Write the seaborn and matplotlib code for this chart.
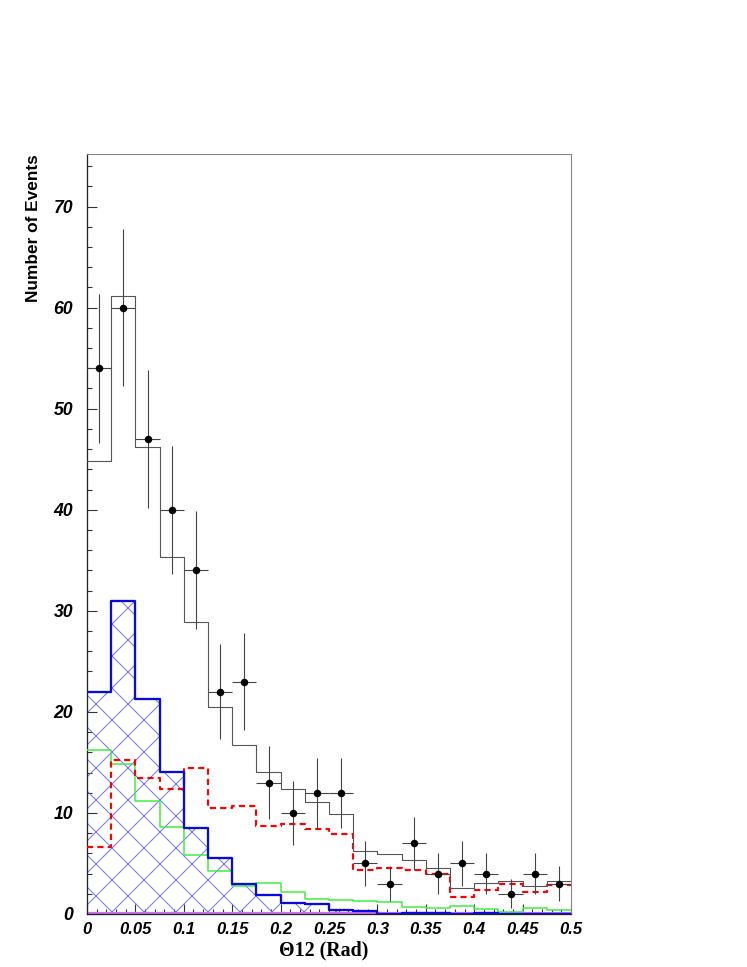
import numpy as np
import pandas as pd
import matplotlib
matplotlib.use("Agg")
import matplotlib.pyplot as plt
from matplotlib.ticker import MultipleLocator
import seaborn as sns

# ---------------- data ----------------
bin_width = 0.025
bin_edges = [round(i * bin_width, 4) for i in range(21)]
bin_centers = [round(e + bin_width / 2, 5) for e in bin_edges[:-1]]

data_counts = [54, 60, 47, 40, 34, 22, 23, 13, 10, 12, 12, 5, 3, 7, 4, 5, 4, 2, 4, 3]
total_mc = [44.8, 61.1, 46.2, 35.3, 28.9, 20.5, 16.7, 14.1, 12.4, 11.1,
            9.9, 6.2, 5.9, 5.3, 4.6, 2.6, 3.1, 3.3, 2.8, 3.3]
blue_mc = [22.0, 31.0, 21.3, 14.1, 8.5, 5.5, 3.0, 1.9, 1.1, 1.0,
           0.4, 0.3, 0.0, 0.1, 0.1, 0.0, 0.1, 0.0, 0.0, 0.0]
green_mc = [16.2, 14.8, 11.2, 8.6, 5.8, 4.25, 2.8, 3.1, 2.2, 1.45,
            1.4, 1.3, 1.2, 0.7, 0.6, 0.8, 0.45, 0.2, 0.55, 0.35]
red_mc = [6.6, 15.2, 13.45, 12.4, 14.4, 10.45, 10.7, 8.7, 8.9, 8.45,
          7.9, 4.4, 4.55, 4.4, 3.95, 1.65, 2.4, 3.0, 2.15, 2.9]
magenta_mc = [0.05, 0.05, 0.05, 0.05, 0.05, 0.05, 0.05, 0.05, 0.05, 0.05,
              0.05, 0.05, 0.1, 0.1, 0.05, 0.05, 0.05, 0.05, 0.05, 0.05]

x_ticks = [0, 0.05, 0.1, 0.15, 0.2, 0.25, 0.3, 0.35, 0.4, 0.45, 0.5]
x_tick_labels = ["0", "0.05", "0.1", "0.15", "0.2", "0.25", "0.3", "0.35", "0.4", "0.45", "0.5"]
y_ticks = [0, 10, 20, 30, 40, 50, 60, 70]
y_tick_labels = ["0", "10", "20", "30", "40", "50", "60", "70"]

df = pd.DataFrame({
    "x": bin_centers, "data": data_counts, "total": total_mc, "blue": blue_mc,
    "green": green_mc, "red": red_mc, "magenta": magenta_mc,
})
df["err"] = np.sqrt(df["data"])

# ---------------- figure ----------------
sns.set_style("white")
DPI = 96


def px(v):
    """pixel size -> points"""
    return v * 72.0 / DPI


plt.rcParams["hatch.linewidth"] = px(1.0)
fig = plt.figure(figsize=(747 / DPI, 967 / DPI), dpi=DPI)
ax = fig.add_axes([87 / 747, 1 - 914 / 967, 484 / 747, 760 / 967])

# hatched fill of the blue component
n_before = len(ax.collections)
sns.histplot(data=df, x="x", weights="blue", bins=bin_edges, element="step",
             fill=True, color="#7272ff", hatch="x", linewidth=0, alpha=1,
             ax=ax, zorder=1)
for coll in ax.collections[n_before:]:
    coll.set_facecolor("none")
    coll.set_edgecolor("#7272ff")
    coll.set_linewidth(0)

common = dict(data=df, x="x", bins=bin_edges, element="step", fill=False, ax=ax)
sns.histplot(weights="magenta", color="#d070f0", linewidth=px(2.2), zorder=2, **common)
sns.histplot(weights="green", color="#3cf03c", linewidth=px(1.5), zorder=3, **common)
sns.histplot(weights="red", color="#ff0000", linewidth=px(2.2), linestyle=(0, (2.8, 1.9)),
             zorder=4, **common)
sns.histplot(weights="blue", color="#0a0adc", linewidth=px(2.3), zorder=5, **common)
sns.histplot(weights="total", color="#555555", linewidth=px(1.1), zorder=6, **common)

# data points with errors
ax.errorbar(df["x"], df["data"], xerr=bin_width / 2, yerr=df["err"], fmt="none",
            ecolor="#444444", elinewidth=px(1.1), capsize=0, zorder=7)
sns.scatterplot(data=df, x="x", y="data", color="black", s=px(7.5) ** 2,
                edgecolor="black", linewidth=0, ax=ax, zorder=8)

# ---------------- axes styling ----------------
ax.set_xlim(0, 0.5)
ax.set_ylim(0, 75.2)
ax.set_xticks(x_ticks, x_tick_labels)
ax.set_yticks(y_ticks, y_tick_labels)
ax.xaxis.set_minor_locator(MultipleLocator(0.01))
ax.yaxis.set_minor_locator(MultipleLocator(2))
ax.tick_params(which="both", direction="in", top=False, right=False,
               bottom=True, left=True, color="#333333", width=px(1.1))
ax.tick_params(which="major", length=px(10))
ax.tick_params(which="minor", length=px(5))
ax.tick_params(axis="x", which="major", pad=px(8))
ax.tick_params(axis="y", which="major", pad=px(14))

for lab in ax.get_xticklabels():
    lab.set_fontfamily("Liberation Sans")
    lab.set_fontweight("bold")
    lab.set_fontstyle("italic")
    lab.set_fontsize(px(16.6))
    lab.set_color("black")
for lab in ax.get_yticklabels():
    lab.set_fontfamily("Liberation Sans")
    lab.set_fontweight("bold")
    lab.set_fontstyle("italic")
    lab.set_fontsize(px(17.6))
    lab.set_color("black")

for side in ["left", "bottom"]:
    ax.spines[side].set_color("#222222")
    ax.spines[side].set_linewidth(px(1.3))
for side in ["top", "right"]:
    ax.spines[side].set_color("#888888")
    ax.spines[side].set_linewidth(px(1.1))

ax.set_xlabel("\u039812 (Rad)", family="Liberation Serif", weight="bold",
              size=px(20), labelpad=0, color="black")
ax.xaxis.set_label_coords(0.49, -0.0345)
ax.xaxis.label.set_va("top")
ax.set_ylabel("Number of Events", family="Liberation Sans", weight="bold",
              size=px(17.2), loc="top", color="black")
ax.yaxis.set_label_coords(-0.095, 1.0)

fig.savefig("out.png", dpi=DPI)
